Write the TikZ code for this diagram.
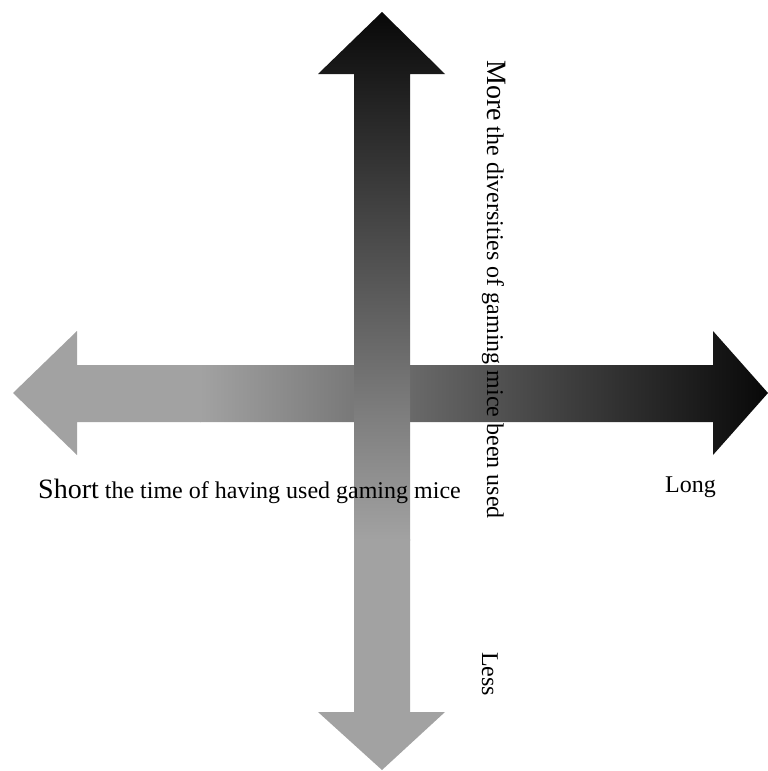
\documentclass[tikz,border=0pt]{standalone}
\usepackage{fontspec}
\setmainfont{Liberation Serif}
\definecolor{argray}{RGB}{162,162,162}
\definecolor{arblack}{RGB}{8,8,8}
\tikzset{
  lbl/.style={inner sep=0pt, text=black, font=\fontsize{24}{26}\selectfont},
  vlbl/.style={lbl, rotate=-90, anchor=base west},
}
\begin{document}
\begin{tikzpicture}[x=1pt,y=-1pt]
\useasboundingbox (0,0) rectangle (768,771);
% horizontal double arrow
\begin{scope}
  \clip (13,393) -- (77,331) -- (77,365) -- (713,365) -- (713,331) -- (768,393)
     -- (713,455) -- (713,422) -- (77,422) -- (77,455) -- cycle;
  \fill[argray] (0,320) rectangle (201,470);
  \shade[left color=argray, right color=arblack] (200,320) rectangle (768,470);
\end{scope}
% vertical double arrow
\begin{scope}
  \clip (382,12) -- (445,74) -- (410,74) -- (410,712) -- (445,712) -- (382,770)
     -- (318,712) -- (354,712) -- (354,74) -- (318,74) -- cycle;
  \shade[top color=arblack, bottom color=argray] (310,10) rectangle (450,540);
  \fill[argray] (310,539) rectangle (450,771);
\end{scope}
% labels
\node[lbl, anchor=base west] (short) at (38,498)
  {\fontsize{28}{30}\selectfont Short\fontsize{24}{26}\selectfont\ the time of having used gaming mice};
\node[lbl, anchor=base west] (long) at (665,492) {Long};
\node[vlbl] (more) at (487,60)
  {\fontsize{28}{30}\selectfont More\fontsize{24}{26}\selectfont\ the diversities of gaming mice been used};
\node[vlbl] (less) at (482,652) {Less};
\end{tikzpicture}
\end{document}
